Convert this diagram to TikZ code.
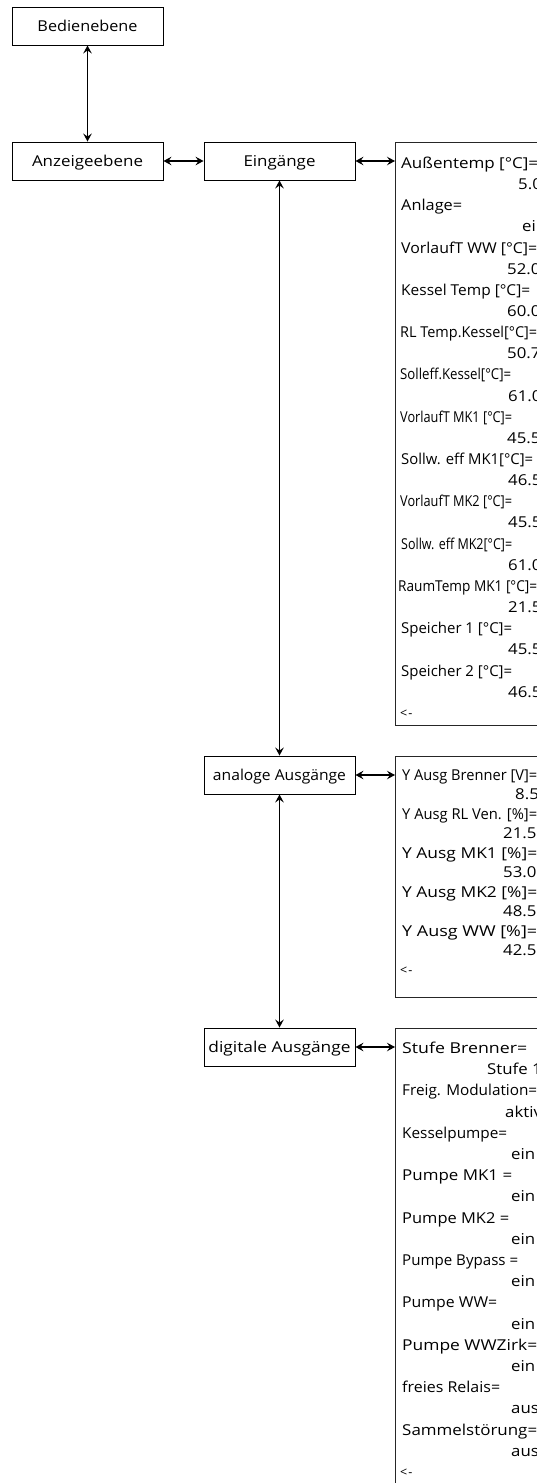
\documentclass[tikz,border=0pt]{standalone}
\usepackage{fontspec}
\usepackage{graphicx}
\setmainfont{Open Sans}
\usetikzlibrary{arrows.meta}
\newcommand{\wbox}[2]{\resizebox{#1pt}{\height}{#2}}
\tikzset{
  lbox/.style={draw=black, line width=0.9pt, minimum width=151pt, minimum height=38pt,
    inner sep=0pt, text height=10.7pt, text depth=0pt, font=\fontsize{15}{18}\selectfont},
  rbox/.style={draw=black!85, line width=0.9pt, anchor=north west, inner sep=0pt},
  conn/.style={{Stealth[length=8pt,width=8.5pt,inset=3pt]}-{Stealth[length=8pt,width=8.5pt,inset=3pt]}, line width=1.1pt},
  ltxt/.style={anchor=base west, inner sep=0pt, font=\fontsize{15}{18}\selectfont},
  back/.style={anchor=base west, inner sep=0pt, font=\fontsize{12.5}{14}\selectfont}
}
\begin{document}
\begin{tikzpicture}[x=1pt,y=-1pt]
\useasboundingbox (0,0) rectangle (537,1483);
\clip (0,0) rectangle (537,1483);
\fill[white] (0,0) rectangle (537,1483);
% left column
\node[lbox] (bed) at (87.5,26) {\wbox{100}{Bedienebene}};
\node[lbox] (anz) at (87.5,161) {\wbox{111}{Anzeigeebene}};
\node[lbox] (ein) at (279.5,161) {\wbox{72}{Eingänge}};
\node[lbox] (ana) at (279.5,775) {\wbox{133}{analoge Ausgänge}};
\node[lbox] (dig) at (279.5,1047) {\wbox{142}{digitale Ausgänge}};
% right boxes
\node[rbox, minimum width=200pt, minimum height=583pt] (r1) at (395,142) {};
\node[rbox, minimum width=200pt, minimum height=241pt] (r2) at (395,756) {};
\node[rbox, minimum width=200pt, minimum height=470pt] (r3) at (395,1028) {};
% connectors
\draw[conn] (bed) -- (anz);
\draw[conn] (anz) -- (ein);
\draw[conn] (ein) -- (ana);
\draw[conn] (ana) -- (dig);
\draw[conn] (ein.east) -- (ein.east -| r1.west);
\draw[conn] (ana.east) -- (ana.east -| r2.west);
\draw[conn] (dig.east) -- (dig.east -| r3.west);
% box 1 texts
\foreach \lab/\lx/\w/\val/\vx [count=\i from 0] in {
  Außentemp [°C]=/401/137/5.0/518,
  Anlage=/401/61/ein/522,
  VorlaufT WW [°C]=/401/136/52.0/507,
  Kessel Temp [°C]=/401/129/60.0/507,
  RL Temp.Kessel[°C]=/400/137/50.7/507,
  Solleff.Kessel[°C]=/400/111/61.0/508,
  VorlaufT MK1 [°C]=/400/112/45.5/507,
  Sollw. eff MK1[°C]=/401/132/46.5/508,
  VorlaufT MK2 [°C]=/400/112/45.5/508,
  Sollw. eff MK2[°C]=/401/111/61.0/508,
  RaumTemp MK1 [°C]=/398/139/21.5/508,
  Speicher 1 [°C]=/401/111/45.5/508,
  Speicher 2 [°C]=/401/111/46.5/508}
{
  \node[ltxt] (la\i) at (\lx,{163+2*\i*21.15+5.4}) {\wbox{\w}{\lab}};
  \node[ltxt] (va\i) at (\vx,{163+(2*\i+1)*21.15+5.4}) {\scalebox{1.12}[1]{\val}};
}
\node[back] (ba) at (400,{163+26*21.15+4.4}) {<\kern1pt-};
% box 2 texts
\foreach \lab/\lx/\w/\val/\vx [count=\i from 0] in {
  Y Ausg Brenner [V]=/402/135/8.5/515,
  Y Ausg RL Ven. [\%]=/402/135/21.5/503,
  Y Ausg MK1 [\%]=/402/135/53.0/503,
  Y Ausg MK2 [\%]=/402/135/48.5/503,
  Y Ausg WW [\%]=/402/135/42.5/503}
{
  \node[ltxt] (lb\i) at (\lx,{775+2*\i*19.5+5.4}) {\wbox{\w}{\lab}};
  \node[ltxt] (vb\i) at (\vx,{775+(2*\i+1)*19.5+5.4}) {\scalebox{1.12}[1]{\val}};
}
\node[back] (bb) at (400,{775+10*19.5+4.4}) {<\kern1pt-};
% box 3 texts
\foreach \lab/\lx/\w/\val/\vx [count=\i from 0] in {
  Stufe Brenner=/402/125/Stufe 1/487,
  Freig. Modulation=/402/135/aktiv/505,
  Kesselpumpe=/402/105/ein/511,
  Pumpe MK1 =/402/110/ein/511,
  Pumpe MK2 =/402/107/ein/511,
  Pumpe Bypass =/402/116/ein/511,
  Pumpe WW=/402/95/ein/511,
  Pumpe WWZirk=/402/135/ein/511,
  freies Relais=/402/98/aus/511,
  Sammelstörung=/402/135/aus/511}
{
  \node[ltxt] (lc\i) at (\lx,{1048+2*\i*21.2+5.4}) {\wbox{\w}{\lab}};
  \node[ltxt] (vc\i) at (\vx,{1048+(2*\i+1)*21.2+5.4}) {\scalebox{1.12}[1]{\val}};
}
\node[back] (bc) at (400,{1048+20*21.2+4.4}) {<\kern1pt-};
\end{tikzpicture}
\end{document}
